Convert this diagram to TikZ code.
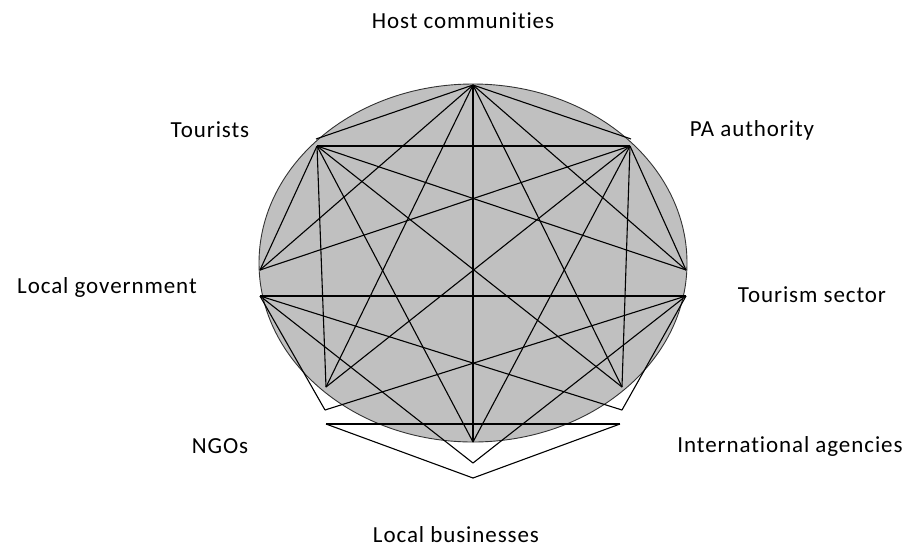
\documentclass[tikz,border=0pt]{standalone}
\usepackage{fontspec}
\setmainfont{Carlito}[LetterSpace=4, Ligatures=NoCommon]
\definecolor{discgray}{RGB}{192,192,192}

\begin{document}
\begin{tikzpicture}[
    x=1pt, y=-1pt,
    link/.style={draw=black, line width=1.1pt, line join=round},
    actor/.style={font=\fontsize{23}{27}\selectfont, inner sep=0pt}
]
\useasboundingbox (0,0) rectangle (910,547);

%-------------------------------
% 1) Shaded disc
%-------------------------------
\filldraw[fill=discgray, draw=black!80, line width=0.9pt]
    (473,263) ellipse [x radius=214, y radius=179];

%-------------------------------
% 2) Stakeholder points
%-------------------------------
\coordinate (H)  at (473,85);
\coordinate (Tt) at (316,139);
\coordinate (Pt) at (631,139);
\coordinate (T)  at (317,146);
\coordinate (P)  at (630,146);
\coordinate (L1) at (260,270);
\coordinate (R1) at (686,270);
\coordinate (L2) at (260,296);
\coordinate (R2) at (686,296);
\coordinate (N1) at (326,387);
\coordinate (I1) at (622,387);
\coordinate (N2) at (325,410);
\coordinate (I2) at (622,410);
\coordinate (N3) at (326,424);
\coordinate (I3) at (620,424);
\coordinate (B1) at (473,442);
\coordinate (B2) at (473,463);
\coordinate (B3) at (473,478);

%-------------------------------
% 3) Labels
%-------------------------------
\node[actor] (host)    at (463,21)  {Host communities};
\node[actor] (tour)    at (210,130) {Tourists};
\node[actor] (pa)      at (752,130) {PA authority};
\node[actor] (locgov)  at (107,287) {Local government};
\node[actor] (sector)  at (812,295) {Tourism sector};
\node[actor] (ngo)     at (220,446) {NGOs};
\node[actor] (intl)    at (790,446) {International agencies};
\node[actor] (locbus)  at (456,535) {Local businesses};

%-------------------------------
% 4) Links from the top three
%-------------------------------
\draw[link] (H) -- (Tt);
\draw[link] (H) -- (Pt);
\draw[link] (H) -- (L1);
\draw[link] (H) -- (R1);
\draw[link] (H) -- (N1);
\draw[link] (H) -- (I1);
\draw[link] (H) -- (B1);

\draw[link] (T) -- (P);
\draw[link] (T) -- (L1);
\draw[link] (T) -- (R1);
\draw[link] (T) -- (N1);
\draw[link] (T) -- (I1);
\draw[link] (T) -- (B1);

\draw[link] (P) -- (L1);
\draw[link] (P) -- (R1);
\draw[link] (P) -- (N1);
\draw[link] (P) -- (I1);
\draw[link] (P) -- (B1);

%-------------------------------
% 5) Links among the lower ones
%-------------------------------
\draw[link] (L2) -- (R2);
\draw[link] (L2) -- (N2);
\draw[link] (L2) -- (I2);
\draw[link] (L2) -- (B2);

\draw[link] (R2) -- (N2);
\draw[link] (R2) -- (I2);
\draw[link] (R2) -- (B2);

\draw[link] (N3) -- (I3);
\draw[link] (N3) -- (B3);
\draw[link] (I3) -- (B3);

\end{tikzpicture}
\end{document}
